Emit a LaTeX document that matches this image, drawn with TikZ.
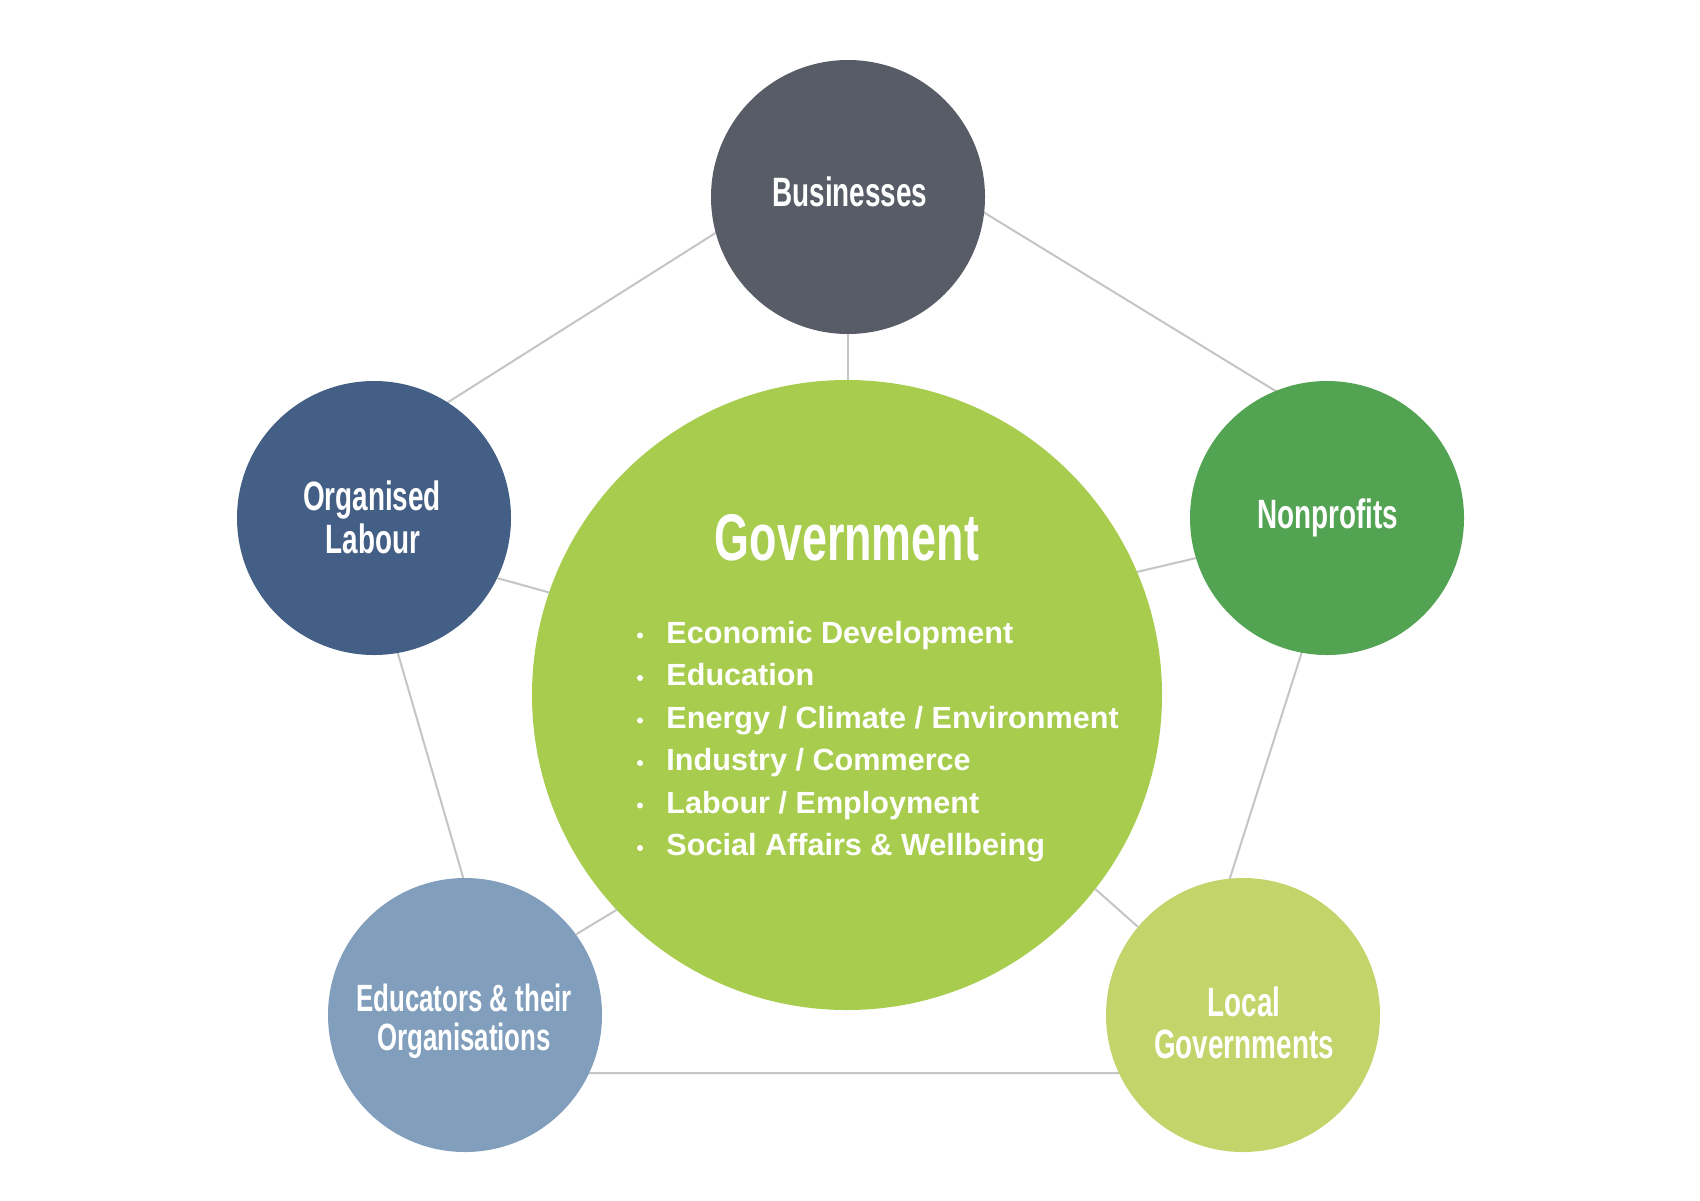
\documentclass[tikz,border=0pt]{standalone}
\usepackage{fontspec}
\newfontfamily\condfont[FakeStretch=0.68]{Liberation Sans}
\newfontfamily\listfont{Liberation Sans}
\definecolor{busc}{HTML}{575C66}
\definecolor{olc}{HTML}{445F85}
\definecolor{npc}{HTML}{52A352}
\definecolor{govc}{HTML}{A8CD4E}
\definecolor{educ}{HTML}{819FBC}
\definecolor{locc}{HTML}{C3D46A}
\definecolor{linegray}{HTML}{C2C6C6}
\begin{document}
\begin{tikzpicture}[x=0.5pt,y=-0.5pt,
  sat/.style={circle, inner sep=0pt, outer sep=0pt, minimum size=137pt},
  govshape/.style={circle, inner sep=0pt, outer sep=0pt, minimum size=315pt, fill=govc},
  link/.style={draw=linegray, line width=1pt},
  lbl/.style={text=white, font=\condfont\bfseries\fontsize{20.5pt}{24pt}\selectfont, anchor=base, inner sep=0pt},
  lblsmall/.style={lbl, font=\condfont\bfseries\fontsize{19pt}{22pt}\selectfont},
  title/.style={text=white, font=\condfont\bfseries\fontsize{33pt}{38pt}\selectfont, anchor=base, inner sep=0pt},
  item/.style={text=white, font=\listfont\bfseries\fontsize{15.3pt}{18pt}\selectfont, anchor=base west, inner sep=0pt},
  bulletdot/.style={circle, fill=white, inner sep=0pt, minimum size=3pt}]
\useasboundingbox (0,0) rectangle (1700,1200);
\fill[white] (0,0) rectangle (1700,1200);

% pentagon corners (hidden under the satellite circles)
\coordinate (p1) at (864,139);
\coordinate (p2) at (1367,447);
\coordinate (p3) at (1168,1073);
\coordinate (p4) at (520,1073);
\coordinate (p5) at (344,468);
\draw[link] (p1) -- (p2) -- (p3) -- (p4) -- (p5) -- cycle;

% circles
\node[govshape] (gov) at (847,695) {};
\node[sat, fill=busc] (bus) at (848,197) {};
\node[sat, fill=olc] (ol) at (374,518) {};
\node[sat, fill=npc] (np) at (1327,518) {};
\node[sat, fill=educ] (edu) at (465,1015) {};
\node[sat, fill=locc] (loc) at (1243,1015) {};

% spokes
\draw[link] (bus.south) -- (bus.south |- gov.north);
\draw[link] (ol.-26) -- (gov.161);
\draw[link] (np.197) -- (gov.23);
\draw[link] (edu.36) -- (gov.223);
\draw[link] (loc.140) -- (gov.322);

% labels
\node[lbl] (busT) at (850,206) {Businesses};
\node[lbl] (olT1) at (372,510) {Organised};
\node[lbl] (olT2) at (373,553) {Labour};
\node[lbl] (npT) at (1328,528) {Nonprofits};
\node[lbl] (locT1) at (1244,1016) {Local};
\node[lbl] (locT2) at (1244,1058) {Governments};
\node[lblsmall] (eduT1) at (464,1011) {Educators \& their};
\node[lblsmall] (eduT2) at (464,1050) {Organisations};

% government
\node[title] (govT) at (847,560) {Government};
\foreach \i/\t [count=\k] in {0/{Economic Development},1/{Education},2/{Energy / Climate / Environment},3/{Industry / Commerce},4/{Labour / Employment},5/{Social Affairs \& Wellbeing}}{
  \node[item] (it\k) at (666,643.3+42.5*\i) {\t};
  \node[bulletdot] (bd\k) at (640,635.5+42.5*\i) {};
}
\end{tikzpicture}
\end{document}
